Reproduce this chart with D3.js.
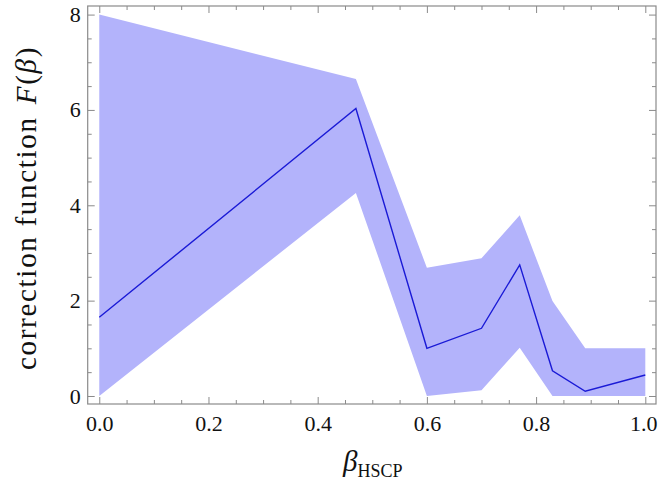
<!DOCTYPE html>
<html>
<head>
<meta charset="utf-8">
<script src="https://cdn.jsdelivr.net/npm/d3@7"></script>
<style>
  html, body { margin: 0; padding: 0; background: #fff; }
  svg { display: block; }
  text { font-family: "Liberation Serif", "Times New Roman", serif; fill: #111; }
</style>
</head>
<body>
<svg id="chart" width="658" height="497"></svg>
<script>
// ---- data ----
const betaValues   = [0.0, 0.47, 0.60, 0.70, 0.77, 0.83, 0.89, 1.0];
const centralValues = [1.65, 6.03, 1.00, 1.42, 2.75, 0.53, 0.10, 0.44];
const upperValues   = [8.00, 6.65, 2.69, 2.89, 3.79, 1.99, 1.00, 1.00];
const lowerValues   = [0.00, 4.26, 0.00, 0.12, 1.01, 0.00, 0.00, 0.00];
const xMajorTicks = [0.0, 0.2, 0.4, 0.6, 0.8, 1.0];
const xTickLabels = ["0.0", "0.2", "0.4", "0.6", "0.8", "1.0"];
const yMajorTicks = [0, 2, 4, 6, 8];
const yTickLabels = ["0", "2", "4", "6", "8"];

const rows = betaValues.map((b, i) => ({ b, c: centralValues[i], lo: lowerValues[i], hi: upperValues[i] }));

const svg = d3.select("#chart");
const L = 87.7, R = 656, T = 6, B = 404;

const x = d3.scaleLinear().domain([-0.0212, 1.0196]).range([L, R]);
const y = d3.scaleLinear().domain([-0.168, 8.18]).range([B, T]);

const plot = svg.append("g");

// band
plot.append("path")
  .datum(rows)
  .attr("fill", "#b3b3fb")
  .attr("d", d3.area().x(d => x(d.b)).y0(d => y(d.lo)).y1(d => y(d.hi)));

// central line
plot.append("path")
  .datum(rows)
  .attr("fill", "none")
  .attr("stroke", "#1a1ad6")
  .attr("stroke-width", 1.4)
  .attr("stroke-linejoin", "miter")
  .attr("d", d3.line().x(d => x(d.b)).y(d => y(d.c)));

// minor ticks
const xMinor = d3.range(0, 1.0001, 0.05).filter(v => !xMajorTicks.some(m => Math.abs(m - v) < 1e-6));
const yMinor = d3.range(0, 8.0001, 0.5).filter(v => !yMajorTicks.some(m => Math.abs(m - v) < 1e-6));

const tickColor = "#8a8a8a";
function styleAxis(g) {
  g.select(".domain").remove();
  g.selectAll(".tick line").attr("stroke", tickColor).attr("stroke-width", 1);
  g.selectAll(".tick text").attr("font-size", 22).attr("fill", "#111")
    .style("font-family", '"Liberation Serif", "Times New Roman", serif');
}

// bottom
const bottomAxis = svg.append("g").attr("transform", `translate(0,${B})`)
  .call(d3.axisBottom(x).tickValues(xMajorTicks).tickFormat((d, i) => xTickLabels[i]).tickSize(-7).tickPadding(11))
  .call(styleAxis);
// keep the last label inside the window
bottomAxis.selectAll(".tick text").filter(d => d === 1.0).attr("dx", -2);
svg.append("g").attr("transform", `translate(0,${B})`)
  .call(d3.axisBottom(x).tickValues(xMinor).tickFormat("").tickSize(-4))
  .call(styleAxis);
// top
svg.append("g").attr("transform", `translate(0,${T})`)
  .call(d3.axisTop(x).tickValues(xMajorTicks).tickFormat("").tickSize(-7))
  .call(styleAxis);
svg.append("g").attr("transform", `translate(0,${T})`)
  .call(d3.axisTop(x).tickValues(xMinor).tickFormat("").tickSize(-4))
  .call(styleAxis);
// left
svg.append("g").attr("transform", `translate(${L},0)`)
  .call(d3.axisLeft(y).tickValues(yMajorTicks).tickFormat((d, i) => yTickLabels[i]).tickSize(-7).tickPadding(7))
  .call(styleAxis);
svg.append("g").attr("transform", `translate(${L},0)`)
  .call(d3.axisLeft(y).tickValues(yMinor).tickFormat("").tickSize(-4))
  .call(styleAxis);
// right
svg.append("g").attr("transform", `translate(${R},0)`)
  .call(d3.axisRight(y).tickValues(yMajorTicks).tickFormat("").tickSize(-7))
  .call(styleAxis);
svg.append("g").attr("transform", `translate(${R},0)`)
  .call(d3.axisRight(y).tickValues(yMinor).tickFormat("").tickSize(-4))
  .call(styleAxis);

// frame
svg.append("rect")
  .attr("x", L).attr("y", T).attr("width", R - L).attr("height", B - T)
  .attr("fill", "none").attr("stroke", tickColor).attr("stroke-width", 1.2);

// y label
const yl = svg.append("text")
  .attr("transform", `translate(36,${(T + B) / 2 + 3}) rotate(-90)`)
  .attr("text-anchor", "middle")
  .attr("font-size", 29)
  .attr("letter-spacing", 1.7);
yl.append("tspan").text("correction function");
yl.append("tspan").attr("dx", 12).attr("font-style", "italic").text("F");
yl.append("tspan").text("(");
yl.append("tspan").attr("font-style", "italic").text("β");
yl.append("tspan").text(")");

// x label
const xl = svg.append("text")
  .attr("x", (L + R) / 2 + 1)
  .attr("y", 471)
  .attr("text-anchor", "middle")
  .attr("font-size", 29);
xl.append("tspan").attr("font-style", "italic").text("β");
xl.append("tspan").attr("font-size", 18).attr("dy", 6).text("HSCP");
</script>
</body>
</html>
